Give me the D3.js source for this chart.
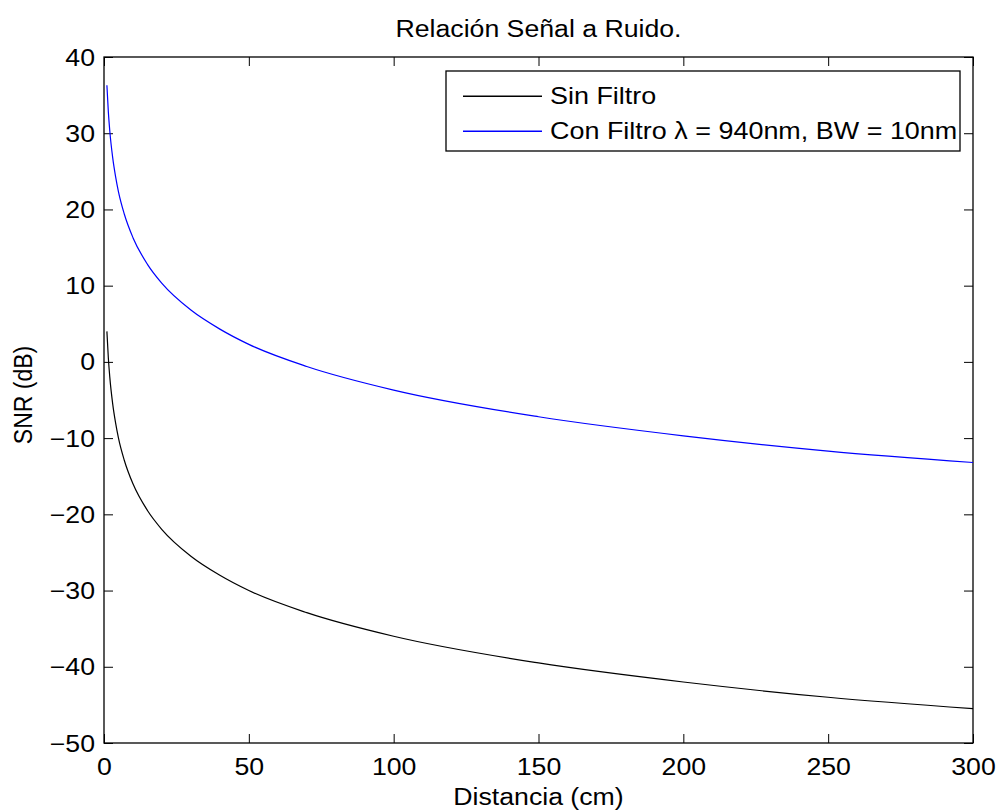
<!DOCTYPE html>
<html>
<head>
<meta charset="utf-8">
<script src="https://cdn.jsdelivr.net/npm/d3@7"></script>
<style>
  html, body { margin: 0; padding: 0; background: #fff; }
  svg { display: block; }
  text { font-family: "Liberation Sans", Arial, Helvetica, sans-serif; fill: #000; }
</style>
</head>
<body>
<svg id="chart"></svg>
<script>
// values
const distances = [1, 1.5, 2, 3, 4, 5, 7, 10, 15, 20, 30, 40, 50, 70, 100, 150, 200, 250, 300];
const sinFiltro = [4.0, 0.5, -2.0, -5.5, -8.0, -10.0, -12.9, -16.0, -19.5, -22.0, -25.5, -28.0, -30.0, -32.9, -36.0, -39.5, -42.0, -44.0, -45.5];
const conFiltro = [36.3, 32.8, 30.3, 26.8, 24.3, 22.3, 19.4, 16.3, 12.8, 10.3, 6.8, 4.3, 2.3, -0.6, -3.7, -7.2, -9.7, -11.7, -13.2];
const xTicks = [0, 50, 100, 150, 200, 250, 300];
const yTicks = [-50, -40, -30, -20, -10, 0, 10, 20, 30, 40];
const seriesNames = ["Sin Filtro", "Con Filtro \u03bb = 940nm, BW = 10nm"];
const seriesColors = ["#000000", "#0000ff"];

const width = 997;
const height = 810;
const margin = { top: 57, right: 24, bottom: 67, left: 104 };
const innerWidth = width - margin.left - margin.right;
const innerHeight = height - margin.top - margin.bottom;
const tick = 9;
const fontSize = 23;
// the reference text is a bit wider than it is tall
const sx = 1.16;
const stretch = `scale(${sx},1)`;

const svg = d3.select("#chart").attr("width", width).attr("height", height);
const root = svg.append("g").attr("transform", `translate(${margin.left},${margin.top})`);

const xScale = d3.scaleLinear().domain([0, 300]).range([0, innerWidth]);
const yScale = d3.scaleLinear().domain([-50, 40]).range([innerHeight, 0]);

const fmt = (d) => (d < 0 ? "\u2212" + Math.abs(d) : String(d));

// axes: ticks inside the box on all four sides
const xAxisG = root.append("g").attr("transform", `translate(0,${innerHeight})`)
  .call(d3.axisBottom(xScale).tickValues(xTicks).tickSizeInner(-tick).tickSizeOuter(0).tickFormat(fmt));
root.append("g")
  .call(d3.axisTop(xScale).tickValues(xTicks).tickSizeInner(-tick).tickSizeOuter(0).tickFormat(""));
const yAxisG = root.append("g")
  .call(d3.axisLeft(yScale).tickValues(yTicks).tickSizeInner(-tick).tickSizeOuter(0).tickFormat(fmt));
root.append("g").attr("transform", `translate(${innerWidth},0)`)
  .call(d3.axisRight(yScale).tickValues(yTicks).tickSizeInner(-tick).tickSizeOuter(0).tickFormat(""));

root.selectAll(".domain").remove();
root.selectAll(".tick line").attr("stroke", "#000").attr("stroke-width", 1);
root.selectAll(".tick text")
  .attr("font-size", fontSize)
  .attr("font-family", "Liberation Sans, Arial, sans-serif")
  .attr("fill", "#000");
xAxisG.selectAll(".tick text")
  .attr("dy", null)
  .attr("y", 775 - 743)
  .attr("transform", stretch);
yAxisG.selectAll(".tick text")
  .attr("x", -9 / sx)
  .attr("dy", "0.35em")
  .attr("transform", stretch);

root.append("rect")
  .attr("width", innerWidth)
  .attr("height", innerHeight)
  .attr("fill", "none")
  .attr("stroke", "#000")
  .attr("stroke-width", 1.3);

// curves
const line = d3.line()
  .x((d) => xScale(d.x))
  .y((d) => yScale(d.y))
  .curve(d3.curveMonotoneX);

const series = [sinFiltro, conFiltro].map((values, k) => ({
  color: seriesColors[k],
  points: values.map((y, i) => ({ x: distances[i], y })),
}));

root.selectAll("path.curve")
  .data(series)
  .join("path")
  .attr("class", "curve")
  .attr("fill", "none")
  .attr("stroke", (d) => d.color)
  .attr("stroke-width", 1.2)
  .attr("d", (d) => line(d.points));

// title and axis labels
function label(x, y, str) {
  svg.append("text")
    .attr("x", x / sx)
    .attr("y", y)
    .attr("transform", stretch)
    .attr("text-anchor", "middle")
    .attr("font-size", fontSize)
    .text(str);
}
label(margin.left + innerWidth / 2, 37, "Relación Señal a Ruido.");
label(margin.left + innerWidth / 2, 805, "Distancia (cm)");
svg.append("text")
  .attr("transform", `translate(32,395) rotate(-90) scale(1,${sx})`)
  .attr("text-anchor", "middle")
  .attr("font-size", fontSize)
  .text("SNR (dB)");

// legend
const legend = svg.append("g");
legend.append("rect")
  .attr("x", 446)
  .attr("y", 71)
  .attr("width", 960 - 446)
  .attr("height", 80)
  .attr("fill", "#fff")
  .attr("stroke", "#000")
  .attr("stroke-width", 1.3);

const lsx = sx * 1.01;
seriesNames.forEach((name, i) => {
  const y = 96 + i * 35;
  legend.append("rect")
    .attr("x", 463)
    .attr("y", y - 0.5)
    .attr("width", 79)
    .attr("height", 1.5)
    .attr("fill", seriesColors[i]);
  legend.append("text")
    .attr("x", 550 / lsx)
    .attr("y", y)
    .attr("transform", `scale(${lsx},1)`)
    .attr("dy", "0.35em")
    .attr("font-size", fontSize)
    .text(name);
});
</script>
</body>
</html>
